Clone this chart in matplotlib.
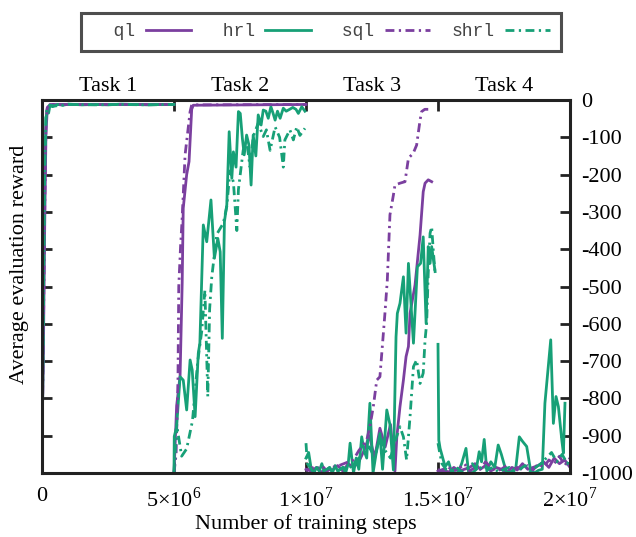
import numpy as np
import matplotlib
matplotlib.use("Agg")
import matplotlib.pyplot as plt
from matplotlib.ticker import FixedLocator, FuncFormatter

plt.rcParams['font.family'] = ['Liberation Serif', 'DejaVu Serif']
plt.rcParams['mathtext.fontset'] = 'custom'
plt.rcParams['mathtext.rm'] = 'Liberation Serif'
plt.rcParams['axes.unicode_minus'] = False

nan = np.nan

# training steps in millions, tasks separated by nan
ql_steps = [0, 0.05, 0.1, 0.15, 0.2, 0.3, 5.0, nan,
            5.0, 5.1, 5.23, 5.31, 5.35, 5.48, 5.57, 5.67, 5.73, 10.0, nan,
            10.0, 10.2, 10.4, 10.6, 10.8, 11.0, 11.2, 11.4, 11.6, 11.8, 12.0, 12.2, 12.4, 12.6,
            12.8, 13.0, 13.2, 13.37, 13.44, 13.56, 13.69, 13.79, 13.88, 13.94, 14.13, 14.32,
            14.44, 14.51, 14.63, 14.76, nan,
            15.0, 15.2, 15.4, 15.6, 15.8, 16.0, 16.2, 16.4, 16.6, 16.8, 17.0, 17.2, 17.4, 17.6,
            17.8, 18.0, 18.2, 18.4, 18.6, 18.8, 19.0, 19.2, 19.4, 19.6, 19.8, 20.0]
ql_reward = [-900, -700, -350, -90, -25, -12, -12, nan,
             -1000, -820, -740, -490, -290, -200, -165, -25, -14, -12, nan,
             -990, -995, -985, -998, -990, -992, -980, -995, -975, -985, -970, -940, -900, -960,
             -880, -930, -870, -995, -903, -822, -751, -688, -661, -572, -496, -362,
             -246, -223, -214, -219, nan,
             -995, -990, -998, -985, -995, -990, -985, -975, -990, -980, -995, -985, -990, -998,
             -985, -992, -975, -990, -985, -980, -970, -985, -960, -975, -965, -985]

hrl_steps = [0, 0.05, 0.1, 0.15, 0.2, 0.25, 0.3, 0.4, 0.6, 0.8, 1.0, 1.5, 2.0, 2.5, 3.0, 3.5,
             4.0, 4.5, 5.0, nan,
             5.0, 5.01, 5.10, 5.23, 5.35, 5.48, 5.61, 5.69, 5.80, 5.92, 5.98, 6.05, 6.11, 6.24,
             6.40, 6.53, 6.66, 6.75, 6.83, 6.91, 7.00, 7.09, 7.19, 7.25, 7.35, 7.44, 7.51, 7.59,
             7.66, 7.75, 7.84, 7.92, 8.00, 8.10, 8.19, 8.30, 8.38, 8.48, 8.57, 8.67, 8.75, 8.83,
             8.92, 9.02, 9.14, 9.25, 9.38, 9.50, 9.62, 9.71, 9.84, 9.96, nan,
             10.0, 10.1, 10.2, 10.3, 10.4, 10.5, 10.6, 10.7, 10.8, 10.9, 11.0, 11.1, 11.2, 11.3,
             11.4, 11.5, 11.6, 11.67, 11.8, 11.9, 12.0, 12.11, 12.2, 12.3, 12.42, 12.54, 12.65,
             12.8, 12.9, 13.06, 13.18, 13.31, 13.41, 13.46, 13.56, 13.69, 13.79, 13.88, 14.07,
             14.22, 14.34, 14.44, 14.55, 14.63, 14.70, 14.76, 14.89, nan,
             15.0, 15.03, 15.08, 15.18, 15.27, 15.4, 15.52, 15.65, 15.78, 15.9, 16.06, 16.15,
             16.3, 16.45, 16.56, 16.65, 16.75, 16.85, 17.0, 17.15, 17.28, 17.4, 17.6, 17.8,
             17.95, 18.08, 18.2, 18.36, 18.5, 18.65, 18.8, 18.95, 19.05, 19.27, 19.37, 19.47,
             19.56, 19.69, 19.75, 19.81]
hrl_reward = [-1000, -600, -200, -50, -22, -35, -15, -18, -12, -14, -11, -13, -12, -13, -11, -12,
              -13, -12, -12, nan,
              -1000, -902, -876, -742, -751, -831, -697, -724, -849, -679, -652, -483, -335, -380,
              -268, -424, -371, -407, -639, -326, -281, -85, -210, -139, -180, -31, -36, -103,
              -147, -94, -121, -228, -94, -150, -40, -67, -27, -30, -49, -18, -35, -54,
              -30, -49, -22, -30, -25, -20, -25, -36, -18, -30, nan,
              -960, -945, -990, -1000, -985, -995, -975, -998, -990, -985, -1000, -980, -995, -990,
              -985, -1000, -975, -920, -1000, -960, -990, -903, -940, -960, -813, -1000, -950,
              -894, -990, -831, -870, -992, -635, -572, -545, -474, -625, -438, -652,
              -447, -438, -367, -599, -393, -438, -393, -460, nan,
              -655, -912, -934, -960, -983, -970, -999, -990, -995, -974, -934, -995,
              -1000, -990, -943, -970, -910, -995, -970, -985, -925, -950, -1000, -995,
              -985, -903, -915, -929, -990, -1000, -993, -990, -813, -643, -867, -795,
              -822, -912, -947, -813]

sql_steps = [0, 0.05, 0.1, 0.15, 0.2, 0.3, 5.0, nan,
             5.0, 5.08, 5.15, 5.18, 5.25, 5.3, 5.42, 5.61, 5.67, 10.0, nan,
             10.0, 10.2, 10.4, 10.6, 10.8, 11.0, 11.29, 11.79, 12.0, 12.3, 12.42, 12.55, 12.68,
             12.8, 12.99, 13.08, 13.18, 13.31, 13.37, 13.56, 13.75, 13.88, 14.06, 14.19, 14.32,
             14.38, 14.5, 14.63, nan,
             15.0, 15.2, 15.4, 15.6, 15.8, 16.0, 16.2, 16.4, 16.6, 16.8, 17.0, 17.2, 17.4, 17.6,
             17.8, 18.0, 18.2, 18.4, 18.6, 18.8, 19.0, 19.2, 19.4, 19.6, 19.8, 20.0]
sql_reward = [-950, -650, -300, -70, -20, -12, -12, nan,
              -1000, -950, -750, -500, -390, -330, -147, -31, -13, -12, nan,
              -995, -985, -990, -980, -995, -985, -979, -965, -940, -912, -876, -822, -751,
              -742, -572, -483, -308, -255, -228, -223, -219, -156, -143, -121, -54,
              -31, -25, -25, nan,
              -990, -998, -985, -995, -988, -975, -995, -985, -990, -970, -985, -995, -990, -980,
              -995, -985, -990, -980, -992, -975, -985, -965, -975, -955, -980, -960]

shrl_steps = [0, 0.05, 0.1, 0.15, 0.2, 0.3, 0.5, 1.0, 2.0, 3.0, 4.0, 5.0, nan,
              5.0, 5.1, 5.29, 5.48, 5.7, 5.9, 6.05, 6.17, 6.28, 6.35, 6.43, 6.62, 6.87, 7.0,
              7.12, 7.25, 7.38, 7.44, 7.62, 7.75, 7.88, 8.0, 8.19, 8.38, 8.5, 8.64, 8.83, 9.0,
              9.14, 9.2, 9.39, 9.52, 9.65, 9.77, 9.96, nan,
              10.0, 10.05, 10.2, 10.4, 10.6, 10.8, 11.0, 11.2, 11.4, 11.6, 11.8, 12.0, 12.2,
              12.4, 12.6, 12.8, 13.0, 13.2, 13.35, 13.56, 13.69, 13.81, 13.94, 14.07, 14.19,
              14.32, 14.44, 14.51, 14.57, 14.63, 14.70, 14.76, 14.82, 14.89, nan,
              15.0, 15.05, 15.15, 15.3, 15.5, 15.7, 15.9, 16.1, 16.3, 16.5, 16.7, 16.9, 17.1,
              17.3, 17.5, 17.7, 17.9, 18.1, 18.3, 18.5, 18.7, 18.9, 19.1, 19.3, 19.5, 19.7,
              19.9, 20.0]
shrl_reward = [-980, -550, -180, -45, -20, -14, -16, -12, -13, -12, -13, -12, nan,
               -1000, -870, -955, -935, -860, -700, -620, -510, -795, -560, -475, -360, -330, -285,
               -190, -220, -350, -240, -135, -110, -180, -98, -62, -98, -80, -135, -72, -100,
               -180, -107, -80, -107, -72, -95, -76, nan,
               -920, -975, -990, -985, -995, -990, -980, -995, -985, -990, -975, -960, -950,
               -930, -960, -900, -940, -960, -920, -876, -903, -965, -850, -715, -697,
               -760, -732, -643, -599, -465, -357, -340, -402, -465, nan,
               -920, -940, -975, -990, -995, -985, -998, -990, -975, -995, -980, -990, -985,
               -998, -990, -985, -995, -990, -980, -995, -985, -975, -960, -945, -970, -950,
               -975, -960]

task_names = ["Task 1", "Task 2", "Task 3", "Task 4"]
task_bounds = [0, 5e6, 1e7, 1.5e7, 2e7]
x_ticks = [0, 5e6, 1e7, 1.5e7, 2e7]
y_ticks = list(range(-1000, 1, 100))

purple = "#7b3f9f"
green = "#17a077"
dashdot = (0, (3.2, 1.6, 0.8, 1.6))

fig = plt.figure(figsize=(6.36, 5.37), dpi=100)
ax = fig.add_axes([42 / 636, 1 - 473 / 537, 528 / 636, 373 / 537])

series = [
    ("ql", ql_steps, ql_reward, purple, "-"),
    ("hrl", hrl_steps, hrl_reward, green, "-"),
    ("sql", sql_steps, sql_reward, purple, dashdot),
    ("shrl", shrl_steps, shrl_reward, green, dashdot),
]
handles = []
for name, xs, ys, col, ls in series:
    line, = ax.plot(np.array(xs) * 1e6, ys, color=col, ls=ls, lw=2.0, label=name)
    handles.append(line)

ax.set_xlim(0, 2e7)
ax.set_ylim(-1000, 0)

for s in ax.spines.values():
    s.set_linewidth(2.2)
    s.set_color("#222222")


def fmt_x(v, pos):
    if v == 0:
        return "0"
    exp = int(np.floor(np.log10(v)))
    mant = "%g" % (v / 10 ** exp)
    return "%s×10$^{%d}$" % (mant, exp)


ax.xaxis.set_major_locator(FixedLocator(x_ticks))
ax.xaxis.set_major_formatter(FuncFormatter(fmt_x))
ax.yaxis.set_major_locator(FixedLocator(y_ticks))
ax.yaxis.set_major_formatter(FuncFormatter(lambda v, p: "%d" % v))

ax.tick_params(axis='x', direction='in', top=True, bottom=True, length=8, width=2,
               labelsize=16, pad=10, color="#222222")
ax.tick_params(axis='y', direction='in', left=True, right=True, labelleft=False,
               labelright=True, length=7, width=2, labelsize=16, pad=8, color="#222222")

for i, name in enumerate(task_names):
    xc = (task_bounds[i] + task_bounds[i + 1]) / 2
    ax.text(xc, 1.035, name, transform=ax.get_xaxis_transform(), ha='center', va='center',
            fontsize=16)

fig.text(306 / 636, 1 - 524 / 537, "Number of training steps", ha='center', va='center',
         fontsize=16)
fig.text(20 / 636, 1 - 264 / 537, "Average evaluation reward", ha='center', va='center',
         rotation=90, fontsize=16)

# gnuplot-style key: labels right-justified in equal-width columns
labels = [name.rjust(4) for name, *_ in series]
leg = fig.legend(handles=handles, labels=labels, loc='center',
                 bbox_to_anchor=(321 / 636, 1 - 32 / 537),
                 ncol=4, markerfirst=False, handlelength=2.5, columnspacing=1.15,
                 handletextpad=0.6, fancybox=False, frameon=True, borderpad=0.6,
                 prop={'family': 'Liberation Mono', 'size': 13})
leg.get_frame().set_edgecolor("#222222")
leg.get_frame().set_linewidth(2.2)
for t in leg.get_texts():
    t.set_color("#444444")

fig.savefig("out.png", dpi=100)
